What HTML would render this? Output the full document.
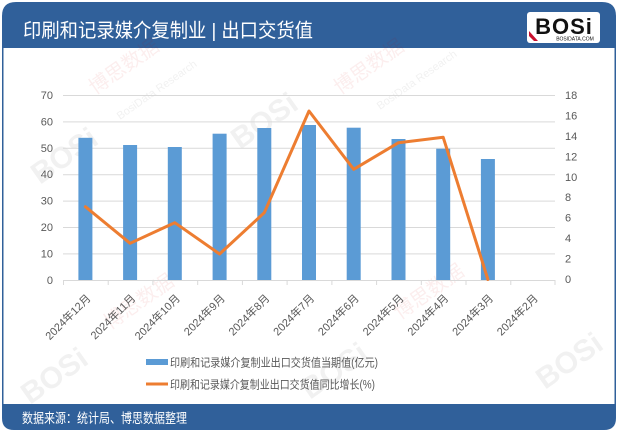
<!DOCTYPE html>
<html><head><meta charset="utf-8">
<style>
html,body{margin:0;padding:0;background:#fff;}
body{width:620px;height:434px;overflow:hidden;font-family:"Liberation Sans","Noto Sans CJK SC",sans-serif;}
</style></head>
<body>
<svg width="620" height="434" viewBox="0 0 620 434" xmlns="http://www.w3.org/2000/svg" font-family="Liberation Sans, Noto Sans CJK SC, sans-serif">
  <!-- frame -->
  <path d="M2,48 L2,16 Q2,2 16,2 L602,2 Q616,2 616,16 L616,48 Z" fill="#30609a"/>
  <path d="M2,404 L616,404 L616,418 Q616,430 604,430 L14,430 Q2,430 2,418 Z" fill="#30609a"/>
  <rect x="2" y="48" width="614" height="356" fill="#fff"/>
  <line x1="2.75" y1="48" x2="2.75" y2="404" stroke="#30609a" stroke-width="1.5"/>
  <line x1="615.25" y1="48" x2="615.25" y2="404" stroke="#30609a" stroke-width="1.5"/>
  <text x="23" y="37" fill="#fff" font-size="19.5" textLength="290" lengthAdjust="spacingAndGlyphs" font-family="Liberation Sans, Noto Sans CJK SC, sans-serif">印刷和记录媒介复制业 | 出口交货值</text>
  <!-- logo -->
  <rect x="527" y="12" width="73" height="31" rx="3" fill="#fff"/>
  <text x="564" y="34" text-anchor="middle" font-size="22" font-weight="bold" fill="#111" font-family="Liberation Sans, sans-serif" letter-spacing="1">BOSi</text>
  <path d="M529,31 L538,41 L534,41 L529,36 Z" fill="#c8102e"/>
  <text x="575" y="40.5" text-anchor="middle" font-size="5" fill="#111" font-family="Liberation Sans, sans-serif">BOSIDATA.COM</text>
  <text x="22" y="423" fill="#fff" font-size="13.5" textLength="165" lengthAdjust="spacingAndGlyphs" font-family="Liberation Sans, Noto Sans CJK SC, sans-serif">数据来源：统计局、博思数据整理</text>

  <!-- watermarks -->
  <g opacity="0.07" font-family="Liberation Sans, Noto Sans CJK SC, sans-serif">
    <text x="40" y="185" font-size="30" font-weight="bold" fill="#333" transform="rotate(-35 40 185)">BOSi</text>
    <text x="95" y="95" font-size="20" fill="#c00" transform="rotate(-35 95 95)">博思数据</text>
    <text x="120" y="120" font-size="11" fill="#333" transform="rotate(-35 120 120)">BosiData Research</text>
    <text x="240" y="150" font-size="30" font-weight="bold" fill="#333" transform="rotate(-35 240 150)">BOSi</text>
    <text x="340" y="95" font-size="20" fill="#c00" transform="rotate(-35 340 95)">博思数据</text>
    <text x="380" y="110" font-size="11" fill="#333" transform="rotate(-35 380 110)">BosiData Research</text>
    <text x="30" y="405" font-size="30" font-weight="bold" fill="#333" transform="rotate(-35 30 405)">BOSi</text>
    <text x="110" y="330" font-size="20" fill="#c00" transform="rotate(-35 110 330)">博思数据</text>
    <text x="310" y="400" font-size="30" font-weight="bold" fill="#333" transform="rotate(-35 310 400)">BOSi</text>
    <text x="400" y="320" font-size="20" fill="#c00" transform="rotate(-35 400 320)">博思数据</text>
    <text x="545" y="390" font-size="30" font-weight="bold" fill="#333" transform="rotate(-35 545 390)">BOSi</text>
  </g>

  <!-- gridlines -->
  <g stroke="#d9d9d9" stroke-width="1">
    <line x1="63" y1="95.5" x2="555" y2="95.5"/>
    <line x1="63" y1="121.9" x2="555" y2="121.9"/>
    <line x1="63" y1="148.3" x2="555" y2="148.3"/>
    <line x1="63" y1="174.7" x2="555" y2="174.7"/>
    <line x1="63" y1="201.1" x2="555" y2="201.1"/>
    <line x1="63" y1="227.5" x2="555" y2="227.5"/>
    <line x1="63" y1="253.9" x2="555" y2="253.9"/>
  </g>
  <!-- left axis labels -->
  <g font-size="11" fill="#595959" text-anchor="end">
    <text x="53" y="99">70</text>
    <text x="53" y="125.4">60</text>
    <text x="53" y="151.8">50</text>
    <text x="53" y="178.2">40</text>
    <text x="53" y="204.6">30</text>
    <text x="53" y="231">20</text>
    <text x="53" y="257.4">10</text>
    <text x="53" y="283.8">0</text>
  </g>
  <!-- right axis labels -->
  <g font-size="11" fill="#595959" text-anchor="start">
    <text x="565" y="99">18</text>
    <text x="565" y="119.4">16</text>
    <text x="565" y="139.9">14</text>
    <text x="565" y="160.3">12</text>
    <text x="565" y="180.8">10</text>
    <text x="565" y="201.2">8</text>
    <text x="565" y="221.7">6</text>
    <text x="565" y="242.1">4</text>
    <text x="565" y="262.6">2</text>
    <text x="565" y="283">0</text>
  </g>
  <!-- bars -->
  <g fill="#5b9bd5">
    <rect x="78.4" y="137.8" width="14" height="142.2"/>
    <rect x="123.1" y="145" width="14" height="135"/>
    <rect x="167.8" y="147" width="14" height="133"/>
    <rect x="212.6" y="133.7" width="14" height="146.3"/>
    <rect x="257.3" y="128" width="14" height="152"/>
    <rect x="302" y="125" width="14" height="155"/>
    <rect x="346.7" y="127.7" width="14" height="152.3"/>
    <rect x="391.5" y="139" width="14" height="141"/>
    <rect x="436.2" y="148.7" width="14" height="131.3"/>
    <rect x="480.9" y="159" width="14" height="121"/>
  </g>
  <!-- x axis -->
  <g stroke="#d9d9d9" stroke-width="1">
    <line x1="63" y1="280.5" x2="555" y2="280.5"/>
    <line x1="63.5" y1="280" x2="63.5" y2="285"/>
    <line x1="108.2" y1="280" x2="108.2" y2="285"/>
    <line x1="152.9" y1="280" x2="152.9" y2="285"/>
    <line x1="197.7" y1="280" x2="197.7" y2="285"/>
    <line x1="242.4" y1="280" x2="242.4" y2="285"/>
    <line x1="287.1" y1="280" x2="287.1" y2="285"/>
    <line x1="331.9" y1="280" x2="331.9" y2="285"/>
    <line x1="376.6" y1="280" x2="376.6" y2="285"/>
    <line x1="421.3" y1="280" x2="421.3" y2="285"/>
    <line x1="466" y1="280" x2="466" y2="285"/>
    <line x1="510.8" y1="280" x2="510.8" y2="285"/>
    <line x1="555" y1="280" x2="555" y2="285"/>
  </g>
  <!-- line -->
  <polyline fill="none" stroke="#ed7d31" stroke-width="3" stroke-linejoin="round" stroke-linecap="round"
    points="85.4,206.7 130.1,243.3 174.8,222.7 219.6,254 264.3,212.7 309,111 353.7,169.3 398.5,142.7 443.2,137.3 487.9,279.5"/>
  <!-- x labels -->
  <g font-size="11" fill="#595959" text-anchor="end">
    <text x="91.4" y="299" transform="rotate(-45 91.4 299)">2024年12月</text>
    <text x="136.1" y="299" transform="rotate(-45 136.1 299)">2024年11月</text>
    <text x="180.8" y="299" transform="rotate(-45 180.8 299)">2024年10月</text>
    <text x="225.6" y="299" transform="rotate(-45 225.6 299)">2024年9月</text>
    <text x="270.3" y="299" transform="rotate(-45 270.3 299)">2024年8月</text>
    <text x="315" y="299" transform="rotate(-45 315 299)">2024年7月</text>
    <text x="359.7" y="299" transform="rotate(-45 359.7 299)">2024年6月</text>
    <text x="404.5" y="299" transform="rotate(-45 404.5 299)">2024年5月</text>
    <text x="449.2" y="299" transform="rotate(-45 449.2 299)">2024年4月</text>
    <text x="493.9" y="299" transform="rotate(-45 493.9 299)">2024年3月</text>
    <text x="538.6" y="299" transform="rotate(-45 538.6 299)">2024年2月</text>
  </g>
  <!-- legend -->
  <rect x="146" y="359" width="22" height="6" fill="#5b9bd5"/>
  <text x="170" y="366.5" font-size="11.5" fill="#595959" textLength="208" lengthAdjust="spacingAndGlyphs">印刷和记录媒介复制业出口交货值当期值(亿元)</text>
  <line x1="146" y1="384" x2="168" y2="384" stroke="#ed7d31" stroke-width="3"/>
  <text x="170" y="388.5" font-size="11.5" fill="#595959" textLength="205" lengthAdjust="spacingAndGlyphs">印刷和记录媒介复制业出口交货值同比增长(%)</text>
</svg>
</body></html>
